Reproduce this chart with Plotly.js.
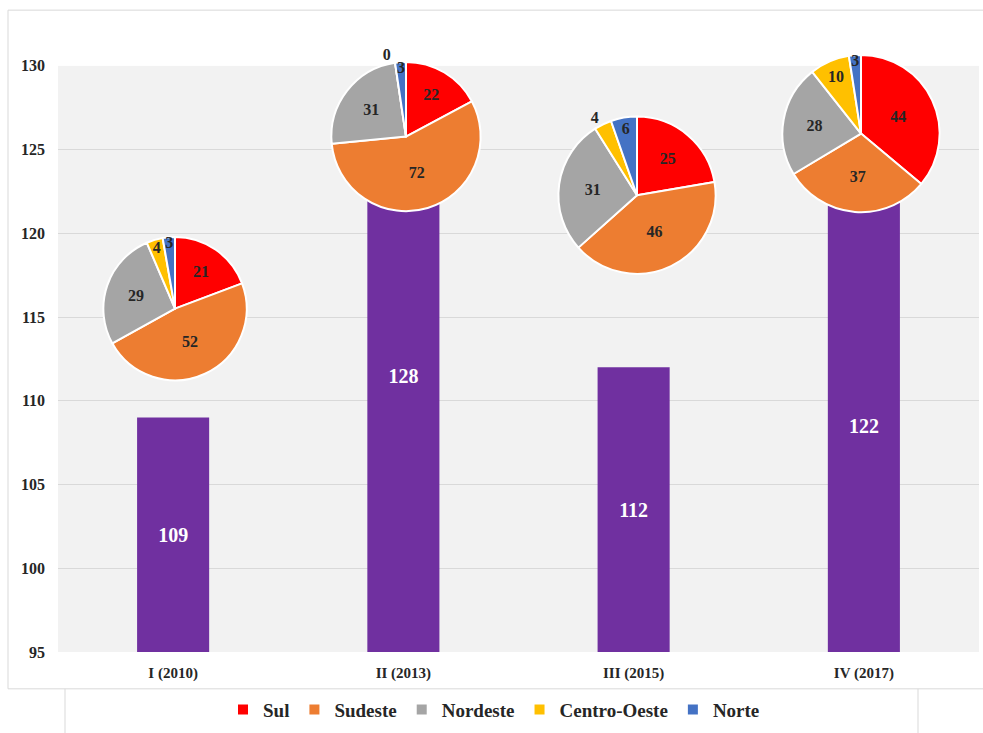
<!DOCTYPE html>
<html>
<head>
<meta charset="utf-8">
<script src="https://cdn.plot.ly/plotly-3.0.1.min.js"></script>
<style>html,body{margin:0;padding:0;background:#fff;}#chart{width:983px;height:733px;}</style>
</head>
<body>
<div id="chart"></div>
<script>
// ---- data ----
const categories = ['I (2010)', 'II (2013)', 'III (2015)', 'IV (2017)'];
const totals = [109, 128, 112, 122];
const regions = ['Sul', 'Sudeste', 'Nordeste', 'Centro-Oeste', 'Norte'];
const sul = [21, 22, 25, 44];
const sudeste = [52, 72, 46, 37];
const nordeste = [29, 31, 31, 28];
const centroOeste = [4, 0, 4, 10];
const norte = [3, 3, 6, 3];

// ---- styling / layout ----
const colors = ['#ff0000', '#ed7d31', '#a5a5a5', '#ffc000', '#4472c4'];
const serif = 'Liberation Serif, Times New Roman, serif';
const W = 983, H = 733;
const M = {l: 58, r: 4, t: 40, b: 78};
const paperW = W - M.l - M.r, paperH = H - M.t - M.b;
const plotTopPx = 66;
const yRange = [95, 130];
// pie geometry (pixel centres and radii on the page)
const pieGeom = [
  {cx: 175, cy: 310, r: 72},
  {cx: 406, cy: 137, r: 75},
  {cx: 637, cy: 196, r: 79},
  {cx: 861, cy: 134, r: 79}
];
const piePos = [
  ['inside', 'inside', 'inside', 'inside', 'inside'],
  ['inside', 'inside', 'inside', 'outside', 'inside'],
  ['inside', 'inside', 'inside', 'outside', 'inside'],
  ['inside', 'inside', 'inside', 'inside', 'inside']
];
function px2x(px) { return (px - M.l) / paperW; }
function px2y(py) { return (H - M.b - py) / paperH; }

const traces = [];
traces.push({
  type: 'bar',
  x: categories,
  y: totals.map(v => v - yRange[0]),
  base: yRange[0],
  text: totals.map(String),
  texttemplate: '%{text}',
  textposition: 'inside',
  insidetextanchor: 'middle',
  textangle: 0,
  textfont: {family: serif, size: 20, color: '#ffffff', weight: 'bold'},
  marker: {color: '#7030a0', line: {width: 0}},
  hoverinfo: 'skip',
  showlegend: false
});

categories.forEach((c, i) => {
  const g = pieGeom[i];
  traces.push({
    type: 'pie',
    labels: regions,
    values: [sul[i], sudeste[i], nordeste[i], centroOeste[i], norte[i]],
    sort: false,
    direction: 'clockwise',
    rotation: 0,
    marker: {colors: colors, line: {color: '#ffffff', width: 2}},
    textinfo: 'value',
    textposition: piePos[i],
    insidetextorientation: 'horizontal',
    textfont: {family: serif, size: 16, color: '#262626', weight: 'bold'},
    outsidetextfont: {family: serif, size: 16, color: '#262626', weight: 'bold'},
    domain: {
      x: [px2x(g.cx - g.r), px2x(g.cx + g.r)],
      y: [px2y(g.cy + g.r), px2y(g.cy - g.r)]
    },
    hoverinfo: 'skip',
    showlegend: i === 0
  });
});

const layout = {
  width: W, height: H,
  margin: M,
  paper_bgcolor: '#ffffff',
  plot_bgcolor: '#f2f2f2',
  bargap: 0.687,
  showlegend: true,
  uniformtext: {minsize: 16, mode: 'show'},
  legend: {
    orientation: 'h', x: px2x(494), xanchor: 'center', y: px2y(713), yanchor: 'middle',
    font: {family: serif, size: 19, color: '#262626', weight: 'bold'},
    traceorder: 'normal', itemwidth: 30, bgcolor: 'rgba(0,0,0,0)'
  },
  xaxis: {
    type: 'category',
    showgrid: false, zeroline: false, showline: false,
    ticks: '', ticklabelstandoff: 10,
    tickfont: {family: serif, size: 15, color: '#262626', weight: 'bold'}
  },
  yaxis: {
    range: yRange, dtick: 5, tick0: 95,
    domain: [0, (H - M.b - plotTopPx) / paperH],
    showgrid: true, gridcolor: '#d9d9d9', gridwidth: 1,
    zeroline: false, showline: false, ticks: '',
    ticklabelstandoff: 12,
    tickfont: {family: serif, size: 16, color: '#262626', weight: 'bold'}
  },
  shapes: [
    {type: 'rect', xref: 'paper', yref: 'paper', layer: 'below',
     x0: px2x(8), x1: px2x(992), y0: px2y(692), y1: px2y(10),
     line: {color: '#d9d9d9', width: 1}, fillcolor: 'rgba(0,0,0,0)'},
    {type: 'line', xref: 'paper', yref: 'paper', layer: 'below',
     x0: px2x(65), x1: px2x(65), y0: px2y(692), y1: px2y(740),
     line: {color: '#d9d9d9', width: 1}},
    {type: 'line', xref: 'paper', yref: 'paper', layer: 'below',
     x0: px2x(918), x1: px2x(918), y0: px2y(692), y1: px2y(740),
     line: {color: '#d9d9d9', width: 1}}
  ]
};

Plotly.newPlot('chart', traces, layout, {staticPlot: true, displayModeBar: false});
</script>
</body>
</html>
